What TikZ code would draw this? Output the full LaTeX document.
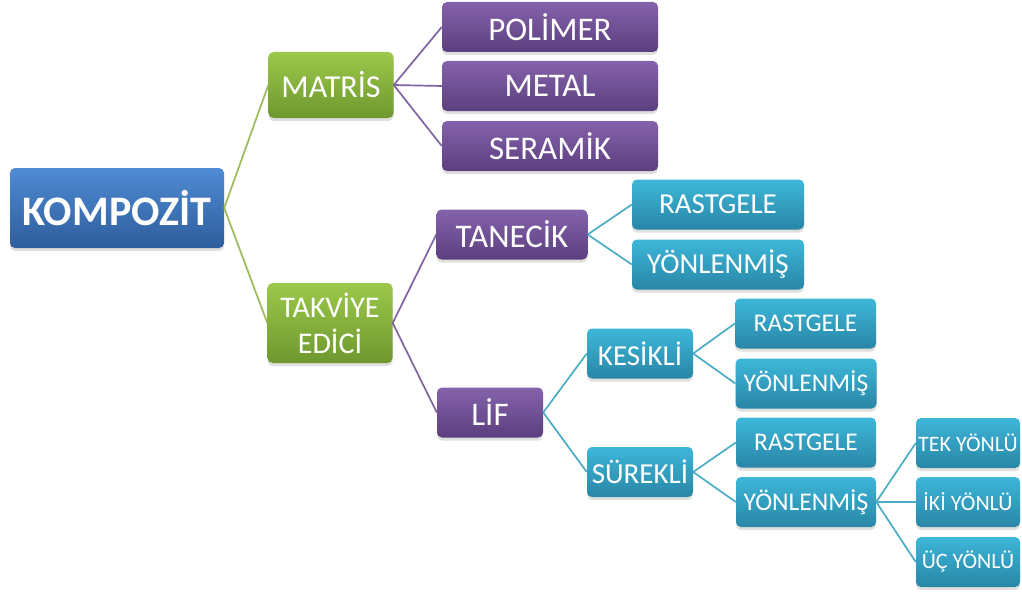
\documentclass[tikz,border=0pt]{standalone}
\usepackage{fontspec}
\setmainfont{Carlito}
\usetikzlibrary{shadows}
\definecolor{treeBlueTop}{HTML}{4F8BD4}
\definecolor{treeBlueBot}{HTML}{2E5D9C}
\definecolor{treeGreenTop}{HTML}{9CC84B}
\definecolor{treeGreenBot}{HTML}{6E982E}
\definecolor{treePurpleTop}{HTML}{8562AC}
\definecolor{treePurpleBot}{HTML}{5C3F7E}
\definecolor{treeCyanTop}{HTML}{3DB7D9}
\definecolor{treeCyanBot}{HTML}{2986A6}
\definecolor{treeGreenLine}{HTML}{9BBB59}
\definecolor{treePurpleLine}{HTML}{8064A2}
\definecolor{treeCyanLine}{HTML}{4BACC6}
\tikzset{
  every picture/.style={text=white},
  tree box/.style={rounded corners=5pt, align=center, inner sep=0pt,
    drop shadow={shadow xshift=0pt, shadow yshift=-3pt, opacity=0.25}},
  tree root/.style={tree box, top color=treeBlueTop, bottom color=treeBlueBot,
    minimum width=214pt, minimum height=80pt,
    font=\fontsize{42}{44}\selectfont\bfseries},
  tree green/.style={tree box, top color=treeGreenTop, bottom color=treeGreenBot,
    minimum width=125pt, font=\fontsize{32}{36}\selectfont},
  tree purple/.style={tree box, top color=treePurpleTop, bottom color=treePurpleBot,
    minimum height=50pt, font=\fontsize{33}{36}\selectfont},
  tree cyan/.style={tree box, top color=treeCyanTop, bottom color=treeCyanBot,
    minimum height=50pt, font=\fontsize{29}{32}\selectfont},
  tree link/.style={line width=1.7pt},
  tree link green/.style={tree link, draw=treeGreenLine},
  tree link purple/.style={tree link, draw=treePurpleLine},
  tree link cyan/.style={tree link, draw=treeCyanLine}
}
\begin{document}
\begin{tikzpicture}[x=1pt,y=-1pt]
  \useasboundingbox (0,0) rectangle (1022,594);
  % levels 0 and 1
  \node[tree root] (kompozit) at (117,208) {KOMPOZİT};
  \node[tree green, minimum height=66pt] (matris) at (331,85) {MATRİS};
  \node[tree green, minimum height=80pt, font=\fontsize{30}{36}\selectfont]
    (takviye) at (330,323) {TAKVİYE\\EDİCİ};
  % level 2
  \node[tree purple, minimum width=216pt] (polimer) at (550,27) {POLİMER};
  \node[tree purple, minimum width=216pt] (metal) at (550,86) {METAL};
  \node[tree purple, minimum width=216pt] (seramik) at (550,146) {SERAMİK};
  \node[tree purple, minimum width=151pt] (tanecik) at (512,234.5) {TANECİK};
  \node[tree purple, minimum width=106pt] (lif) at (490,412.5) {LİF};
  % level 3
  \node[tree cyan, minimum width=172pt] (tanRast) at (718,204.5) {RASTGELE};
  \node[tree cyan, minimum width=172pt] (tanYon) at (718,264.5) {YÖNLENMİŞ};
  \node[tree cyan, minimum width=106pt] (kesikli) at (640,353.5) {KESİKLİ};
  \node[tree cyan, minimum width=106pt] (surekli) at (640,472) {SÜREKLİ};
  % level 4
  \node[tree cyan, minimum width=141pt, font=\fontsize{25.5}{28}\selectfont]
    (kesRast) at (805.5,323.5) {RASTGELE};
  \node[tree cyan, minimum width=141pt, font=\fontsize{25.5}{28}\selectfont]
    (kesYon) at (806,383.5) {YÖNLENMİŞ};
  \node[tree cyan, minimum width=140pt, font=\fontsize{25.5}{28}\selectfont]
    (surRast) at (806,442.5) {RASTGELE};
  \node[tree cyan, minimum width=140pt, font=\fontsize{25.5}{28}\selectfont]
    (surYon) at (806,502) {YÖNLENMİŞ};
  % level 5
  \foreach \name/\txt/\yy in {tek/TEK YÖNLÜ/443, iki/İKİ YÖNLÜ/502, uc/ÜÇ YÖNLÜ/562}
    \node[tree cyan, minimum width=104pt, font=\fontsize{22}{24}\selectfont]
      (\name) at (968,\yy) {\txt};
  % connectors
  \foreach \kid in {matris,takviye}
    \draw[tree link green] (kompozit.east) -- (\kid.west);
  \foreach \kid in {polimer,metal,seramik}
    \draw[tree link purple] (matris.east) -- (\kid.west);
  \foreach \kid in {tanecik,lif}
    \draw[tree link purple] (takviye.east) -- (\kid.west);
  \foreach \kid in {tanRast,tanYon}
    \draw[tree link cyan] (tanecik.east) -- (\kid.west);
  \foreach \kid in {kesikli,surekli}
    \draw[tree link cyan] (lif.east) -- (\kid.west);
  \foreach \kid in {kesRast,kesYon}
    \draw[tree link cyan] (kesikli.east) -- (\kid.west);
  \foreach \kid in {surRast,surYon}
    \draw[tree link cyan] (surekli.east) -- (\kid.west);
  \foreach \kid in {tek,iki,uc}
    \draw[tree link cyan] (surYon.east) -- (\kid.west);
\end{tikzpicture}
\end{document}
